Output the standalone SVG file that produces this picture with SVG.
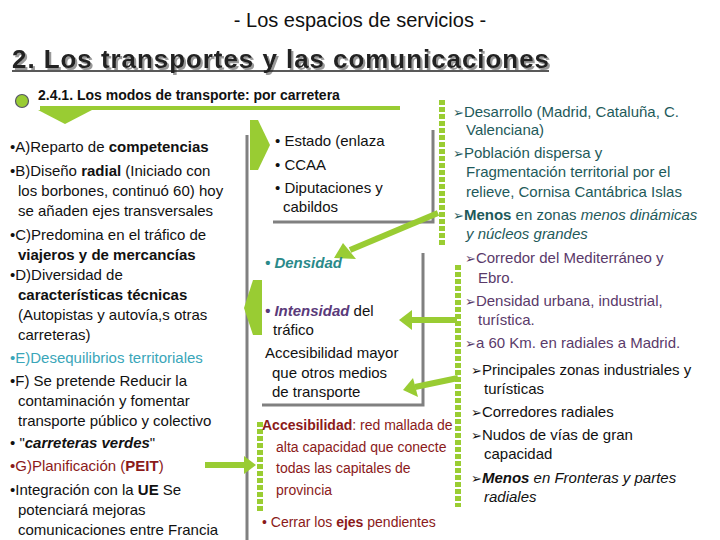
<svg xmlns="http://www.w3.org/2000/svg" width="720" height="540" viewBox="0 0 720 540">
<style>
text{font-family:"Liberation Sans",Arial,sans-serif;font-size:15px;fill:#111}
.b{font-weight:bold}.i{font-style:italic}
.teal{fill:#1e5a5a}.pur{fill:#5a3a6a}.red{fill:#8b1a1a}.cy{fill:#3aa6b9}
.gl{stroke:#808080;stroke-width:3;fill:none}
.dot{stroke:#9acd32;stroke-width:6;stroke-dasharray:5 2;fill:none}
.arr{fill:#99cc33}
.ln{stroke:#99cc33;stroke-width:6;fill:none}
.ar{font-family:"DejaVu Sans",sans-serif;font-size:13px}
</style>
<defs>
<filter id="sh" x="-5%" y="-20%" width="110%" height="140%"><feDropShadow dx="2" dy="2" stdDeviation="0.5" flood-color="#999"/></filter>
</defs>
<rect width="720" height="540" fill="#fff"/>
<text x="360" y="27" text-anchor="middle" style="font-size:20px">- Los espacios de servicios -</text>
<text x="12" y="68" class="b" textLength="537" lengthAdjust="spacing" filter="url(#sh)" style="font-size:26px;fill:#222">2. Los transportes y las comunicaciones</text>
<line x1="12" y1="71" x2="549" y2="71" stroke="#222" stroke-width="1.5"/>
<g id="header">
<circle cx="22" cy="101" r="6.5" fill="#99cc33" stroke="#556" stroke-width="1.2"/>
<text x="38" y="100" class="b" style="font-size:14px">2.4.1. Los modos de transporte: por carretera</text>
<rect x="40" y="106" width="360" height="4" fill="#99cc33"/>
<polygon class="arr" points="38,110 92,110 65,124"/>
</g>
<g id="connectors">
<line class="gl" x1="247" y1="135" x2="247" y2="540"/>
<polyline class="gl" points="433,130 433,222 273,222"/>
<polyline class="gl" points="423,253 423,405 262,405"/>
<line class="dot" x1="442" y1="100" x2="442" y2="246"/>
<line class="dot" x1="458" y1="265" x2="458" y2="507"/>
<line class="dot" x1="260" y1="422" x2="260" y2="512"/>
<polygon class="arr" points="250,120 258,120 270,145 258,170 250,170"/>
<polygon class="arr" points="262,280 262,335 253,335 244,308 253,280"/>
<line class="ln" x1="205" y1="465" x2="246" y2="465"/>
<polygon class="arr" points="244,456 256,465 244,474"/>
<line class="ln" x1="438" y1="213" x2="350" y2="250"/>
<polygon class="arr" points="343,243 334,258 356,259"/>
<line class="ln" x1="457" y1="320" x2="410" y2="320"/>
<polygon class="arr" points="412,310 399,320 412,330"/>
<line class="ln" x1="458" y1="378" x2="415" y2="387"/>
<polygon class="arr" points="413,378 403,390 418,397"/>
</g>
<g id="left">
<text x="10" y="152">•A)Reparto de <tspan class="b">competencias</tspan></text>
<text x="10" y="176">•B)Diseño <tspan class="b">radial</tspan> (Iniciado con</text>
<text x="18" y="196">los borbones, continuó 60) hoy</text>
<text x="18" y="216">se añaden ejes transversales</text>
<text x="10" y="240">•C)Predomina en el tráfico de</text>
<text x="18" y="260" class="b">viajeros y de mercancías</text>
<text x="10" y="280">•D)Diversidad de</text>
<text x="18" y="300" class="b">características técnicas</text>
<text x="18" y="320">(Autopistas y autovía,s  otras</text>
<text x="18" y="340">carreteras)</text>
<text x="10" y="363" class="cy">•E)Desequilibrios territoriales</text>
<text x="10" y="386">•F) Se pretende Reducir la</text>
<text x="18" y="406">contaminación y fomentar</text>
<text x="18" y="426">transporte público y colectivo</text>
<text x="10" y="448">• "<tspan class="b i">carreteras verdes</tspan>"</text>
<text x="10" y="471" class="red">•G)Planificación (<tspan class="b">PEIT</tspan>)</text>
<text x="10" y="495">•Integración con la <tspan class="b">UE</tspan> Se</text>
<text x="18" y="515">potenciará mejoras</text>
<text x="18" y="535">comunicaciones entre Francia</text>
</g>
<g id="mid">
<text x="275" y="146">• Estado (enlaza</text>
<text x="275" y="170">• CCAA</text>
<text x="275" y="193">• Diputaciones y</text>
<text x="283" y="212">cabildos</text>
<text x="265" y="268" class="b i" style="fill:#2a8a8a">• Densidad</text>
<text x="265" y="316"><tspan class="b i" style="fill:#5a3a7a">• Intensidad</tspan> del</text>
<text x="273" y="335">tráfico</text>
<text x="265" y="358">Accesibilidad mayor</text>
<text x="272" y="378">que otros medios</text>
<text x="272" y="397">de transporte</text>
<text x="262" y="430" class="red" style="font-size:14px"><tspan class="b">Accesibilidad</tspan>: red mallada de</text>
<text x="276" y="452" class="red" style="font-size:14px">alta capacidad que conecte</text>
<text x="276" y="473" class="red" style="font-size:14px">todas las capitales de</text>
<text x="276" y="495" class="red" style="font-size:14px">provincia</text>
<text x="262" y="527" class="red" style="font-size:14px">•  Cerrar los <tspan class="b">ejes</tspan> pendientes</text>
</g>
<g id="right">
<text x="453" y="117" class="teal"><tspan class="ar teal">➢</tspan>Desarrollo (Madrid, Cataluña, C.</text>
<text x="466" y="135" class="teal">Valenciana)</text>
<text x="453" y="158" class="teal"><tspan class="ar teal">➢</tspan>Población dispersa y</text>
<text x="466" y="177" class="teal">Fragmentación territorial por el</text>
<text x="466" y="197" class="teal">relieve, Cornisa Cantábrica  Islas</text>
<text x="453" y="220" class="teal"><tspan class="ar teal">➢</tspan><tspan class="b">Menos</tspan> en  zonas <tspan class="i">menos dinámicas</tspan></text>
<text x="466" y="239" class="teal i">y núcleos grandes</text>
<text x="465" y="263" class="pur"><tspan class="ar pur">➢</tspan>Corredor del Mediterráneo y</text>
<text x="478" y="283" class="pur">Ebro.</text>
<text x="465" y="306" class="pur"><tspan class="ar pur">➢</tspan>Densidad urbana, industrial,</text>
<text x="478" y="325" class="pur">turística.</text>
<text x="465" y="348" class="pur"><tspan class="ar pur">➢</tspan>a 60 Km. en radiales a Madrid.</text>
<text x="471" y="375"><tspan class="ar">➢</tspan>Principales zonas industriales y</text>
<text x="484" y="394">turísticas</text>
<text x="471" y="417"><tspan class="ar">➢</tspan>Corredores radiales</text>
<text x="471" y="440"><tspan class="ar">➢</tspan>Nudos de vías de gran</text>
<text x="484" y="459">capacidad</text>
<text x="471" y="483"><tspan class="ar">➢</tspan><tspan class="b i">Menos</tspan><tspan class="i"> en Fronteras y  partes</tspan></text>
<text x="484" y="502" class="i">radiales</text>
</g>
</svg>
